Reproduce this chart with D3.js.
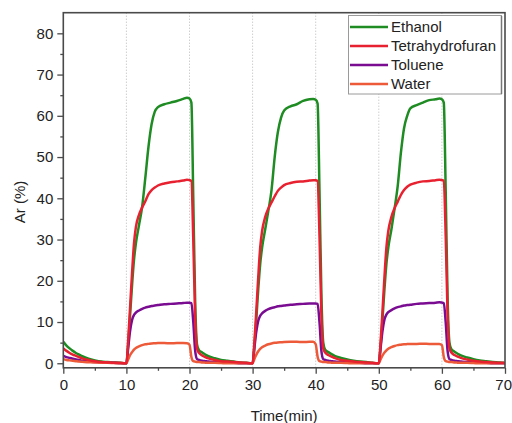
<!DOCTYPE html>
<html><head><meta charset="utf-8">
<script src="https://cdn.jsdelivr.net/npm/d3@7"></script>
<style>body{margin:0;background:#fff}svg{display:block}text{font-family:"Liberation Sans",Arial,sans-serif}</style>
</head><body>
<svg id="c" width="512" height="423"></svg>
<script>
const times = [0,0.5,1,1.5,2,2.5,3,4,5,6,7,8,9,9.8,
 10,10.3,10.6,10.9,11.2,11.5,12,12.5,13,13.5,14,14.5,15,16,17,18,19,19.6,20,20.3,20.6,20.9,21.2,21.5,22,22.5,23,24,25,26,27,28,29,29.8,
 30,30.3,30.6,30.9,31.2,31.5,32,32.5,33,33.5,34,34.5,35,36,37,38,39,39.6,40,40.3,40.6,40.9,41.2,41.5,42,42.5,43,44,45,46,47,48,49,49.8,
 50,50.3,50.6,50.9,51.2,51.5,52,52.5,53,53.5,54,54.5,55,56,57,58,59,59.6,60,60.3,60.6,60.9,61.2,61.5,62,62.5,63,64,65,66,67,68,69,69.8,
 70];
const ethanol = [5.2,4.3,3.6,3.0,2.5,2.1,1.7,1.1,0.7,0.4,0.3,0.2,0.1,0,
 0,5,12,19,25,29,33.5,38,45,52.5,58,61,62.1,62.8,63.2,63.6,64.1,64.4,64.2,63.2,40,15,4.5,3.2,2.6,2.1,1.7,1.2,0.8,0.6,0.4,0.2,0.1,0,
 0,4.5,11,18,24,28,32.5,37,42,50,56,59.5,61.3,62.3,62.8,63.6,64.0,64.1,63.9,63.0,42,17,5,3.3,2.7,2.2,1.8,1.3,0.9,0.6,0.4,0.3,0.1,0,
 0,4.5,11,18,24,28,32.5,37.5,43,51,57,60,61.8,62.6,63.2,63.8,64.0,64.2,64.0,63.2,42,16,5,3.4,2.8,2.3,1.9,1.4,1.0,0.7,0.5,0.3,0.2,0.1,
 0];
const thf = [3.6,3.0,2.5,2.1,1.8,1.5,1.2,0.8,0.5,0.3,0.2,0.1,0.1,0,
 0,6,14,22,29,33,36,37.8,39.3,41,42,42.6,43.1,43.6,43.9,44.1,44.3,44.5,44.4,44.2,30,11,3.5,2.5,1.9,1.5,1.2,0.8,0.5,0.4,0.3,0.2,0.1,0,
 0,5.5,13,21,28,32,35.5,37.5,39,40.5,41.8,42.6,43.2,43.7,44.0,44.1,44.3,44.4,44.4,44.2,31,12,3.6,2.6,2.0,1.6,1.3,0.8,0.6,0.4,0.3,0.2,0.1,0,
 0,5.5,13,21,28,32,35.5,37.6,39.2,40.8,42,42.8,43.3,43.8,44.1,44.2,44.4,44.5,44.4,44.3,31,12,3.6,2.6,2.0,1.6,1.3,0.9,0.6,0.4,0.3,0.2,0.1,0.1,
 0];
const toluene = [1.8,1.5,1.3,1.1,0.9,0.8,0.6,0.4,0.3,0.2,0.1,0.1,0,0,
 0,4,8,10.5,11.7,12.3,12.8,13.2,13.5,13.7,13.9,14.0,14.1,14.3,14.4,14.5,14.6,14.7,14.7,14.6,10,3,1.0,0.8,0.6,0.5,0.4,0.3,0.2,0.1,0.1,0,0,0,
 0,4,7.8,10.3,11.5,12.1,12.7,13.1,13.4,13.6,13.8,13.9,14.0,14.2,14.3,14.4,14.5,14.5,14.5,14.4,10,3,1.0,0.8,0.6,0.5,0.4,0.3,0.2,0.1,0.1,0,0,0,
 0,4,8,10.6,11.8,12.4,12.9,13.3,13.6,13.8,14.0,14.1,14.2,14.4,14.5,14.6,14.7,14.8,14.7,14.6,10,3,1.0,0.8,0.6,0.5,0.4,0.3,0.2,0.1,0.1,0,0,0,
 0];
const water = [1.0,0.8,0.7,0.6,0.5,0.4,0.35,0.25,0.2,0.1,0.1,0.05,0,0,
 0,1.0,2.0,2.7,3.3,3.7,4.1,4.4,4.6,4.7,4.8,4.85,4.9,4.9,4.85,4.9,4.9,4.85,4.5,1.5,0.5,0.4,0.3,0.3,0.2,0.15,0.1,0.1,0.05,0,0,0,0,0,
 0,1.1,2.1,2.9,3.5,3.9,4.3,4.6,4.8,4.95,5.05,5.1,5.15,5.2,5.2,5.15,5.2,5.2,4.6,1.6,0.5,0.4,0.3,0.3,0.2,0.15,0.1,0.1,0.05,0,0,0,0,0,
 0,1.0,1.9,2.6,3.1,3.5,3.9,4.2,4.4,4.5,4.6,4.65,4.7,4.7,4.75,4.7,4.7,4.7,4.4,1.5,0.5,0.4,0.3,0.3,0.2,0.15,0.1,0.1,0.05,0,0,0,0,0,
 0];
const seriesNames = ["Ethanol","Tetrahydrofuran","Toluene","Water"];
const xTicks = [0,10,20,30,40,50,60,70];
const xMinor = [5,15,25,35,45,55,65];
const yTicks = [0,10,20,30,40,50,60,70,80];
const yMinor = [5,15,25,35,45,55,65,75];
const gridX = [10,20,30,40,50,60];

const colors = {"Ethanol":"#1e8c23","Tetrahydrofuran":"#e82130","Toluene":"#7a0c92","Water":"#ec5a3a"};
const valuesBy = {"Ethanol":ethanol,"Tetrahydrofuran":thf,"Toluene":toluene,"Water":water};

const L=63.3, R=505, T=12.7, B=367.8;
const x = d3.scaleLinear().domain([0,70]).range([L,R]);
const y = d3.scaleLinear().domain([-1.1,85]).range([B,T]);
const svg = d3.select("#c");
const axisColor="#4a4a4a";

// dotted grid
svg.append("g").selectAll("line").data(gridX).join("line")
 .attr("x1",d=>x(d)).attr("x2",d=>x(d)).attr("y1",T).attr("y2",B)
 .attr("stroke","#b8b8b8").attr("stroke-width",1).attr("stroke-dasharray","1,2");

// clip
svg.append("clipPath").attr("id","clip").append("rect").attr("x",L).attr("y",T).attr("width",R-L).attr("height",B-T);

const line = d3.line().x(d=>x(d[0])).y(d=>y(d[1])).curve(d3.curveMonotoneX);
const drawOrder = ["Ethanol","Toluene","Water","Tetrahydrofuran"];
const gl = svg.append("g").attr("clip-path","url(#clip)");
drawOrder.forEach(n=>{
  const pts = times.map((t,i)=>[t,valuesBy[n][i]]);
  gl.append("path").datum(pts).attr("d",line).attr("fill","none")
    .attr("stroke",colors[n]).attr("stroke-width",2.5).attr("stroke-linejoin","round");
});

// axes
const xAxis = d3.axisBottom(x).tickValues(xTicks).tickSize(6).tickPadding(6).tickFormat(d3.format("d"));
const gx = svg.append("g").attr("transform",`translate(0,${B})`).call(xAxis);
gx.select(".domain").remove();
gx.selectAll(".tick line").attr("stroke",axisColor).attr("stroke-width",1.3);
gx.selectAll("text").attr("font-size",15).attr("fill","#222");
// keep the last label inside the window
gx.selectAll(".tick text").filter(d=>d===70).attr("text-anchor","end").attr("x",6.5);
svg.append("g").attr("transform",`translate(0,${B})`).call(d3.axisBottom(x).tickValues(xMinor).tickSize(3).tickFormat(""))
 .call(g=>{g.select(".domain").remove();g.selectAll("line").attr("stroke",axisColor).attr("stroke-width",1.3);});

const yAxis = d3.axisLeft(y).tickValues(yTicks).tickSize(6).tickPadding(4).tickFormat(d3.format("d"));
const gy = svg.append("g").attr("transform",`translate(${L},0)`).call(yAxis);
gy.select(".domain").remove();
gy.selectAll(".tick line").attr("stroke",axisColor).attr("stroke-width",1.3);
gy.selectAll("text").attr("font-size",15).attr("fill","#222");
svg.append("g").attr("transform",`translate(${L},0)`).call(d3.axisLeft(y).tickValues(yMinor).tickSize(3).tickFormat(""))
 .call(g=>{g.select(".domain").remove();g.selectAll("line").attr("stroke",axisColor).attr("stroke-width",1.3);});

// frame
svg.append("rect").attr("x",L).attr("y",T).attr("width",R-L).attr("height",B-T)
 .attr("fill","none").attr("stroke",axisColor).attr("stroke-width",1.6);

// titles
svg.append("text").attr("x",(L+R)/2).attr("y",421).attr("text-anchor","middle").attr("font-size",15).attr("fill","#222").text("Time(min)");
svg.append("text").attr("transform","translate(25,202) rotate(-90)").attr("text-anchor","middle").attr("font-size",15).attr("fill","#222").text("Ar (%)");

// legend
const lg = svg.append("g");
lg.append("rect").attr("x",348.5).attr("y",15.5).attr("width",153).attr("height",78.5)
 .attr("fill","#fff").attr("stroke","#9a9a9a").attr("stroke-width",1);
lg.append("line").attr("x1",501.5).attr("x2",501.5).attr("y1",16).attr("y2",94).attr("stroke","#777").attr("stroke-width",1.5);
const rowY = d3.scaleBand().domain(seriesNames).range([17.5,93.5]);
seriesNames.forEach(n=>{
  const cy = rowY(n)+rowY.bandwidth()/2;
  lg.append("line").attr("x1",350).attr("x2",388).attr("y1",cy).attr("y2",cy).attr("stroke",colors[n]).attr("stroke-width",2.6);
  lg.append("text").attr("x",391).attr("y",cy).attr("dy","0.36em").attr("font-size",15).attr("fill","#222").text(n);
});
</script>
</body></html>
